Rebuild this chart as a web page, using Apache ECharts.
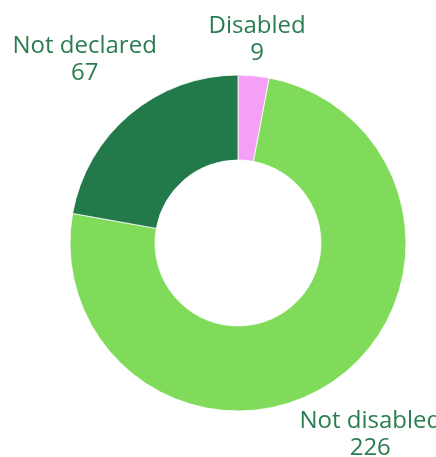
<!DOCTYPE html>
<html>
<head>
<meta charset="utf-8">
<script src="https://cdn.jsdelivr.net/npm/echarts@6/dist/echarts.min.js"></script>
<style>
  html, body { margin: 0; padding: 0; background: #fff; }
  #chart { width: 436px; height: 457px; }
</style>
</head>
<body>
<div id="chart"></div>
<script>
// Disability status breakdown
const categories = ['Disabled', 'Not disabled', 'Not declared'];
const counts = [9, 226, 67];
const sliceColors = ['#f4a0f6', '#80db5a', '#227a4a'];

const CENTER = [238, 243];
const R_INNER = 83;
const R_OUTER = 168;
const LABEL_GAP = 176; // labels sit just outside this circle

const total = counts.reduce((a, b) => a + b, 0);
// mid-angle of each slice, measured clockwise from 12 o'clock
const midAngles = [];
let acc = 0;
counts.forEach(v => {
  midAngles.push(((acc + v / 2) / total) * Math.PI * 2);
  acc += v;
});

// push a label box outward along its slice's radial until its nearest point touches LABEL_GAP
function placeLabel(idx, w, h) {
  const ux = Math.sin(midAngles[idx]);
  const uy = -Math.cos(midAngles[idx]);
  const hw = w / 2, hh = h / 2;
  const dist = t => {
    const cx = Math.abs(t * ux), cy = Math.abs(t * uy);
    const dx = Math.max(0, cx - hw), dy = Math.max(0, cy - hh);
    return Math.sqrt(dx * dx + dy * dy);
  };
  let lo = 0, hi = 800;
  for (let i = 0; i < 60; i++) {
    const mid = (lo + hi) / 2;
    if (dist(mid) < LABEL_GAP) lo = mid; else hi = mid;
  }
  return [CENTER[0] + lo * ux, CENTER[1] + lo * uy];
}

const chart = echarts.init(document.getElementById('chart'), null, { renderer: 'canvas' });
chart.setOption({
  animation: false,
  series: [{
    type: 'pie',
    center: CENTER,
    radius: [R_INNER, R_OUTER],
    startAngle: 90,
    clockwise: true,
    avoidLabelOverlap: false,
    itemStyle: { borderColor: '#ffffff', borderWidth: 0.8 },
    label: {
      show: true,
      position: 'outside',
      formatter: '{b}\n{c}',
      color: '#2a7d4f',
      fontFamily: 'Open Sans',
      fontSize: 24,
      lineHeight: 27,
      align: 'center'
    },
    labelLine: { show: false },
    labelLayout: function (params) {
      const r = params.labelRect;
      const p = placeLabel(params.dataIndex, r.width, r.height);
      return { x: p[0], y: p[1], align: 'center', verticalAlign: 'middle' };
    },
    emphasis: { disabled: true },
    data: categories.map((name, i) => ({
      name: name,
      value: counts[i],
      itemStyle: { color: sliceColors[i] }
    }))
  }]
});
</script>
</body>
</html>
